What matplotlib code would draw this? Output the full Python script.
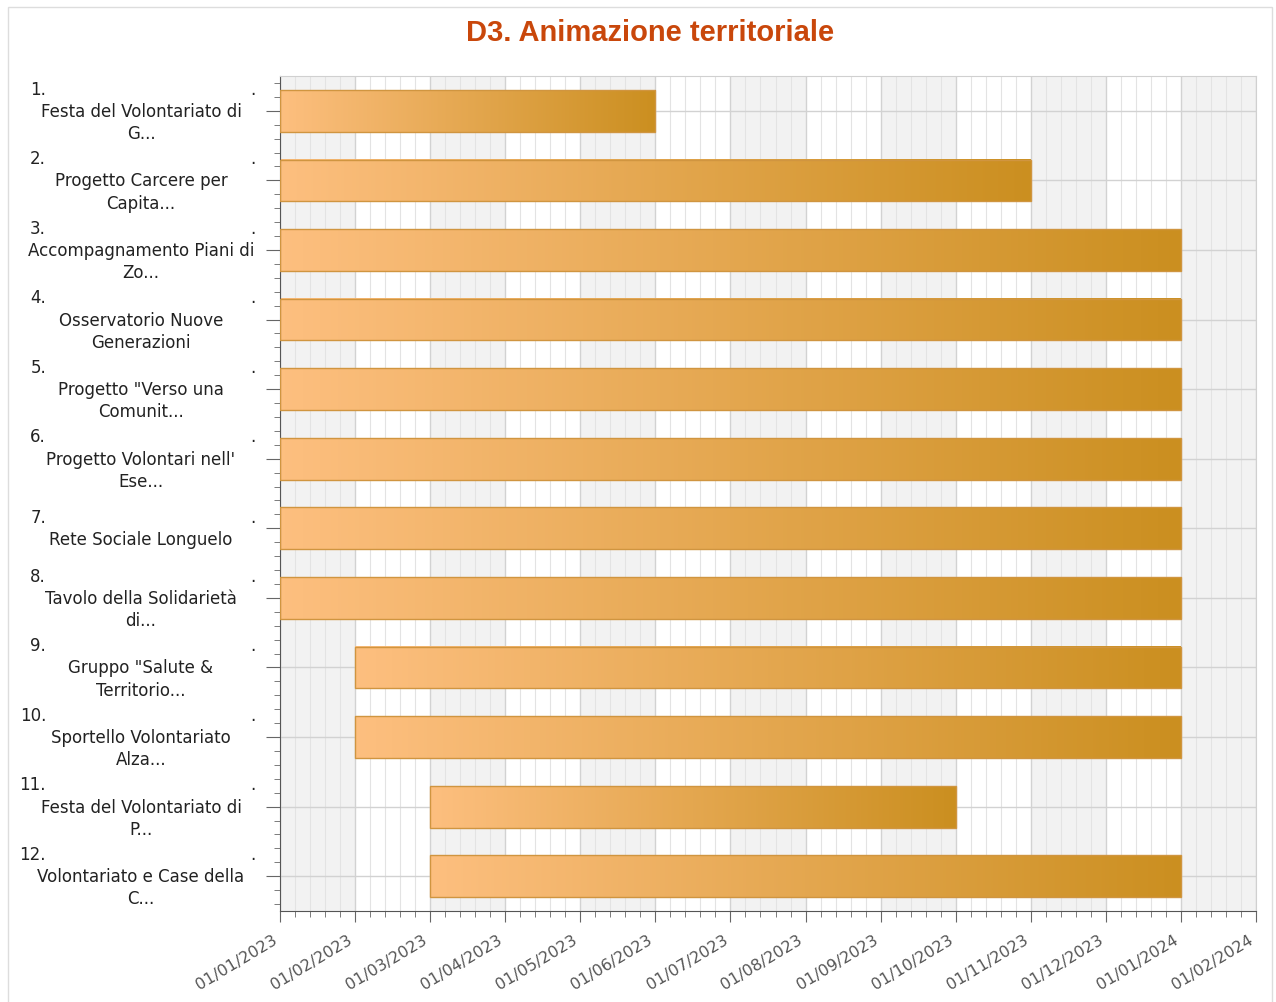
import numpy as np
import matplotlib
matplotlib.use("Agg")
import matplotlib.pyplot as plt
from matplotlib.colors import LinearSegmentedColormap
from matplotlib.patches import Rectangle
from matplotlib.ticker import MultipleLocator, FuncFormatter
import matplotlib.transforms as mtransforms

plt.rcParams["font.family"] = ["DejaVu Sans"]

# activity labels (as truncated in the original chart)
labels = [
    "Festa del Volontariato di\nG...",
    "Progetto Carcere per\nCapita...",
    "Accompagnamento Piani di\nZo...",
    "Osservatorio Nuove\nGenerazioni",
    "Progetto \"Verso una\nComunit...",
    "Progetto Volontari nell'\nEse...",
    "Rete Sociale Longuelo",
    "Tavolo della Solidarietà\ndi...",
    "Gruppo \"Salute &\nTerritorio...",
    "Sportello Volontariato\nAlza...",
    "Festa del Volontariato di\nP...",
    "Volontariato e Case della\nC...",
]
starts = ["01/01/2023", "01/01/2023", "01/01/2023", "01/01/2023", "01/01/2023", "01/01/2023",
          "01/01/2023", "01/01/2023", "01/02/2023", "01/02/2023", "01/03/2023", "01/03/2023"]
ends = ["01/06/2023", "01/11/2023", "01/01/2024", "01/01/2024", "01/01/2024", "01/01/2024",
        "01/01/2024", "01/01/2024", "01/01/2024", "01/01/2024", "01/10/2023", "01/01/2024"]

# the chart puts every month on the same width
def month_pos(s):
    d, m, y = map(int, s.split("/"))
    return (y - 2023) * 12 + (m - 1) + (d - 1) / 30.0

def month_label(x, pos):
    i = int(round(x))
    return "01/%02d/%d" % (i % 12 + 1, 2023 + i // 12)

n_months = 13
grad = LinearSegmentedColormap.from_list("bar", ["#fdbf7f", "#cb8f20"])
title_color = "#c9470b"

fig = plt.figure(figsize=(12.76, 10.03), dpi=100)
ax = fig.add_axes([280 / 1276, 1 - 912 / 1003, 976 / 1276, 835 / 1003])

# outer frame
fig.patches.append(Rectangle((8 / 1276, -0.01), 1264 / 1276, 1 - 8 / 1003 + 0.01,
                             transform=fig.transFigure, fill=False, edgecolor="#dddddd", lw=1))

fig.text(650 / 1276, 1 - 33 / 1003, "D3. Animazione territoriale", ha="center", va="center",
         fontsize=21, fontweight="bold", color=title_color, family=["Liberation Sans"])

ax.set_xlim(0, n_months)
ax.set_ylim(len(labels) + 0.5, 0.5)

# alternating month bands
for m in range(0, n_months, 2):
    ax.axvspan(m, m + 1, color="#f2f2f2", zorder=0, lw=0)

ax.xaxis.set_major_locator(MultipleLocator(1))
ax.xaxis.set_minor_locator(MultipleLocator(0.2))
ax.xaxis.set_major_formatter(FuncFormatter(month_label))
ax.set_yticks(range(1, len(labels) + 1))
ax.yaxis.set_minor_locator(MultipleLocator(0.2))
ax.set_yticklabels([])

ax.grid(which="major", axis="x", color="#d2d2d2", lw=1, zorder=0.5)
ax.grid(which="minor", axis="x", color="#e3e3e3", lw=0.8, zorder=0.4)
ax.grid(which="major", axis="y", color="#d2d2d2", lw=1, zorder=0.5)
ax.set_axisbelow(True)

ax.tick_params(axis="x", which="major", length=8, color="#666666", labelsize=11.5,
               labelcolor="#555555", pad=7)
ax.tick_params(axis="x", which="minor", length=4, color="#666666")
ax.tick_params(axis="y", which="major", length=10, color="#666666")
ax.tick_params(axis="y", which="minor", length=4, color="#666666")
offset = mtransforms.ScaledTranslation(-8 / 100, 0, fig.dpi_scale_trans)
for lab in ax.get_xticklabels():
    lab.set_rotation(31)
    lab.set_ha("right")
    lab.set_va("top")
    lab.set_rotation_mode("anchor")
    lab.set_transform(lab.get_transform() + offset)

for side in ["left", "bottom"]:
    ax.spines[side].set_color("#555555")
for side in ["top", "right"]:
    ax.spines[side].set_color("#d0d0d0")

# bars with horizontal gradient
h = 0.6
for i, (s, e) in enumerate(zip(starts, ends)):
    y = i + 1
    x0, x1 = month_pos(s), month_pos(e)
    ax.imshow(np.linspace(0, 1, 256).reshape(1, -1), cmap=grad, aspect="auto",
              extent=[x0, x1, y + h / 2, y - h / 2], zorder=2, interpolation="bilinear")
    ax.add_patch(Rectangle((x0, y - h / 2), x1 - x0, h, fill=False,
                           edgecolor="#d09540", lw=1, zorder=3))
ax.set_xlim(0, n_months)
ax.set_ylim(len(labels) + 0.5, 0.5)

# y labels: number on the first line, text centred below
trans = mtransforms.blended_transform_factory(fig.transFigure, ax.transData)
line_h = 16
fs = 12
for i, lab in enumerate(labels):
    y = i + 1
    lines = ["%d." % (i + 1)] + lab.split("\n")
    n = len(lines)
    for k, line in enumerate(lines):
        off = ((n - 1) / 2 - k) * line_h
        if k == 0:
            ax.annotate(line, xy=(46 / 1276, y), xycoords=trans, xytext=(0, off),
                        textcoords="offset points", ha="right", va="center",
                        fontsize=fs, color="#222222")
            ax.annotate(".", xy=(253 / 1276, y), xycoords=trans, xytext=(0, off),
                        textcoords="offset points", ha="center", va="center",
                        fontsize=fs, color="#222222")
        else:
            ax.annotate(line, xy=(141 / 1276, y), xycoords=trans, xytext=(0, off),
                        textcoords="offset points", ha="center", va="center",
                        fontsize=fs, color="#222222")

fig.savefig("out.png", dpi=100)
